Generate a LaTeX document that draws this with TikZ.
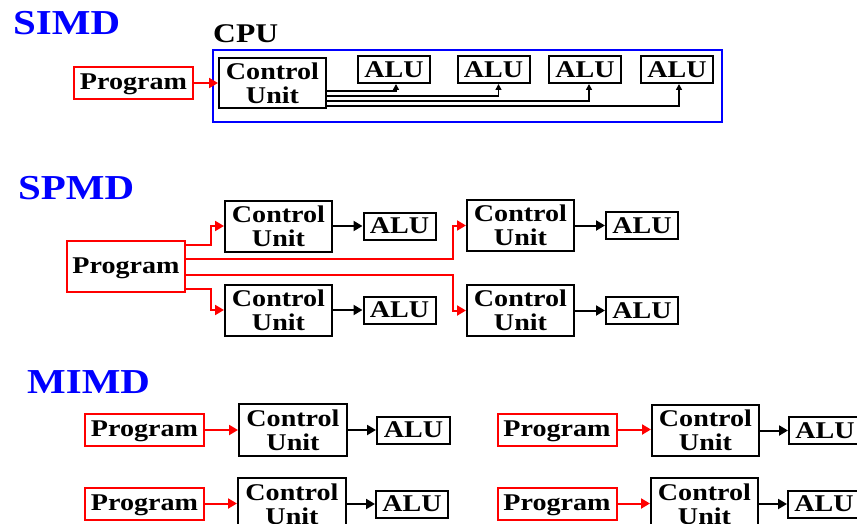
\documentclass[tikz,border=0pt]{standalone}
\usepackage{fontspec}
\setmainfont{Liberation Serif}[FakeStretch=1.17]
\usetikzlibrary{arrows.meta}
\begin{document}
\begin{tikzpicture}[x=1pt,y=-1pt,
  box/.style={draw=black, line width=2pt, inner sep=0pt, align=center,
    font=\bfseries\fontsize{24}{24}\selectfont},
  redbox/.style={box, draw=red, text depth=2pt},
  cubox/.style={box, minimum width=107pt, minimum height=51pt},
  alubox/.style={box, minimum width=72pt, minimum height=27pt},
  progbox/.style={redbox, minimum width=119pt, minimum height=32pt},
  title/.style={anchor=base west, text=blue, inner sep=0pt,
    font=\bfseries\fontsize{35}{35}\selectfont},
  blk/.style={draw=black, line width=2pt, -{Triangle[length=9pt,width=10pt]}},
  rd/.style={draw=red, line width=2pt, -{Triangle[length=9pt,width=10pt]}},
  thin/.style={draw=black, line width=1.5pt, -{Triangle[length=6pt,width=6pt]}}
]
\useasboundingbox (0,0) rectangle (857,524);
\clip (0,0) rectangle (857,524);
\fill[white] (0,0) rectangle (857,524);

% ---------------- SIMD
\node[title] (simd) at (13,35) {SIMD};
\node[anchor=base west, inner sep=0pt, font=\bfseries\fontsize{27}{27}\selectfont] (cpulbl) at (213,43) {CPU};
\node[draw=blue, line width=2pt, minimum width=509pt, minimum height=72pt] (cpu) at (467.5,86) {};
\node[progbox] (p0) at (133.5,83) {Program};
\node[cubox, minimum height=50pt] (cu0) at (272.5,83) {Control\\Unit};
\node[alubox] (a1) at (394,69.5) {ALU};
\node[alubox] (a2) at (493.5,69.5) {ALU};
\node[alubox] (a3) at (585,69.5) {ALU};
\node[alubox] (a4) at (677,69.5) {ALU};
\draw[rd] (p0) -- (cu0);
\draw[thin] (cu0.east |- 0,91) -| ([xshift=2pt]a1.south);
\draw[thin] (cu0.east |- 0,96) -| ([xshift=5pt]a2.south);
\draw[thin] (cu0.east |- 0,101) -| ([xshift=4pt]a3.south);
\draw[thin] (cu0.east |- 0,106) -| ([xshift=2pt]a4.south);

% ---------------- SPMD
\node[title] (spmd) at (18,199) {SPMD};
\node[redbox, minimum width=118pt, minimum height=51pt] (p1) at (126,266.5) {Program};
\node[cubox] (cuA) at (278.5,226) {Control\\Unit};
\node[alubox] (aA) at (399.5,226) {ALU};
\node[cubox] (cuB) at (278.5,310) {Control\\Unit};
\node[alubox] (aB) at (399.5,310) {ALU};
\node[cubox] (cuC) at (520.5,225.5) {Control\\Unit};
\node[alubox] (aC) at (642,225.5) {ALU};
\node[cubox] (cuD) at (520.5,310.5) {Control\\Unit};
\node[alubox] (aD) at (642,310.5) {ALU};
\draw[blk] (cuA) -- (aA);
\draw[blk] (cuB) -- (aB);
\draw[blk] (cuC) -- (aC);
\draw[blk] (cuD) -- (aD);
\draw[rd] (p1.east |- 0,245) -- (211,245) |- (cuA.west);
\draw[rd] (p1.east |- 0,289) -- (211,289) |- (cuB.west);
\draw[rd] (p1.east |- 0,259) -- (453,259) |- (cuC.west);
\draw[rd] (p1.east |- 0,275) -- (453,275) |- (cuD.west);

% ---------------- MIMD
\node[title] (mimd) at (27,393) {MIMD};
\node[progbox] (pA) at (144.5,430) {Program};
\node[cubox, minimum width=108pt, minimum height=52pt] (cuE) at (293,430) {Control\\Unit};
\node[alubox, minimum width=73pt] (aE) at (413.5,430) {ALU};
\node[progbox] (pB) at (144.5,503.5) {Program};
\node[cubox, minimum width=108pt, minimum height=52pt] (cuF) at (292,504) {Control\\Unit};
\node[alubox] (aF) at (412,504) {ALU};
\node[progbox] (pC) at (557,429.5) {Program};
\node[cubox] (cuG) at (705.5,430.5) {Control\\Unit};
\node[alubox] (aG) at (825,430.5) {ALU};
\node[progbox] (pD) at (557,503.5) {Program};
\node[cubox, minimum height=52pt] (cuH) at (704.5,504) {Control\\Unit};
\node[alubox] (aH) at (824,504) {ALU};
\draw[rd] (pA.east) -- (pA.east -| cuE.west);
\draw[rd] (pB.east) -- (pB.east -| cuF.west);
\draw[rd] (pC.east) -- (pC.east -| cuG.west);
\draw[rd] (pD.east) -- (pD.east -| cuH.west);
\draw[blk] (cuE) -- (aE);
\draw[blk] (cuF) -- (aF);
\draw[blk] (cuG) -- (aG);
\draw[blk] (cuH) -- (aH);
\end{tikzpicture}
\end{document}
